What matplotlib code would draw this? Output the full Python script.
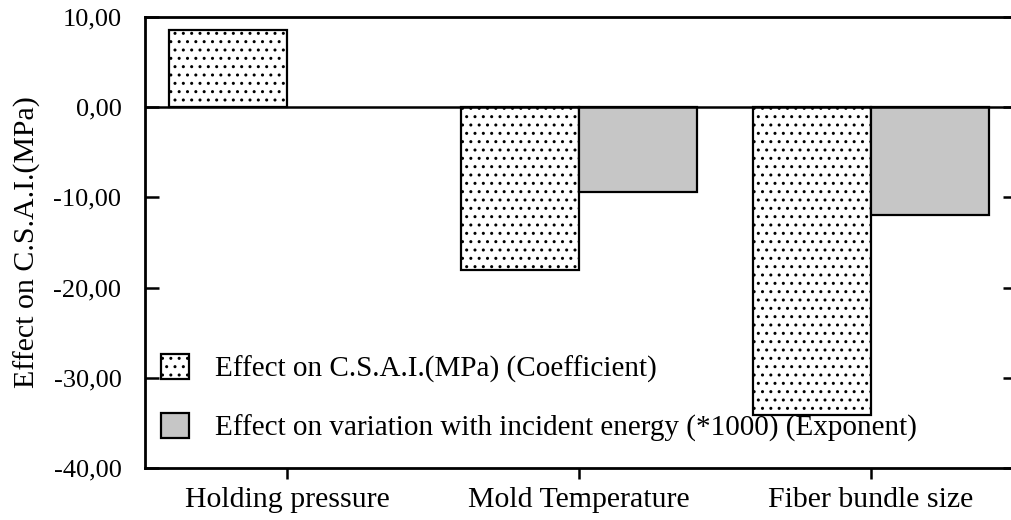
import matplotlib
matplotlib.use('Agg')

import matplotlib.pyplot as plt
import numpy as np

plt.rcParams['font.family'] = ['Liberation Serif', 'DejaVu Serif']
plt.rcParams['hatch.linewidth'] = 1.0

categories = ['Holding pressure', 'Mold Temperature', 'Fiber bundle size']
coefficient = [8.6, -18.1, -34.1]
exponent = [0.0, -9.4, -11.9]
yticks = [10, 0, -10, -20, -30, -40]
yticklabels = ['10,00', '0,00', '-10,00', '-20,00', '-30,00', '-40,00']
labels = ['Effect on C.S.A.I.(MPa) (Coefficient)',
          'Effect on variation with incident energy (*1000) (Exponent)']

fig = plt.figure(figsize=(10.11, 5.2), dpi=100)
W, H = 1011, 520
left, right, top, bottom = 145, 1017, 17, 468
ax = fig.add_axes([left / W, 1 - bottom / H, (right - left) / W, (bottom - top) / H])

x = np.arange(len(categories))
w = 0.404
b1 = ax.bar(x - w / 2, coefficient, w, facecolor='white', edgecolor='black',
            hatch='..', linewidth=1.6, label=labels[0])
b2 = ax.bar(x[1:] + w / 2, exponent[1:], w, facecolor='#c6c6c6', edgecolor='black',
            linewidth=1.6, label=labels[1])

ax.axhline(0, color='black', linewidth=1.8)
ax.set_xlim(-0.487, 2.5)
ax.set_ylim(-40, 10)
ax.set_yticks(yticks)
ax.set_yticklabels(yticklabels, fontsize=19)
ax.set_xticks(x)
ax.set_xticklabels(categories, fontsize=21.5)
ax.tick_params(axis='y', direction='in', length=10, width=1.8, right=True, pad=17)
ax.tick_params(axis='x', direction='out', length=8, width=1.8, pad=6)
for s in ax.spines.values():
    s.set_linewidth(2)
ax.set_ylabel('Effect on C.S.A.I.(MPa)', fontsize=21.5, labelpad=9)

leg = ax.legend(loc='lower left', bbox_to_anchor=(-0.005, 0.012), frameon=False,
                fontsize=21, handlelength=0.95, handleheight=0.95, handletextpad=0.9,
                labelspacing=1.05, borderaxespad=0.3)
leg.set_zorder(5)

plt.savefig('out.png', dpi=100)
